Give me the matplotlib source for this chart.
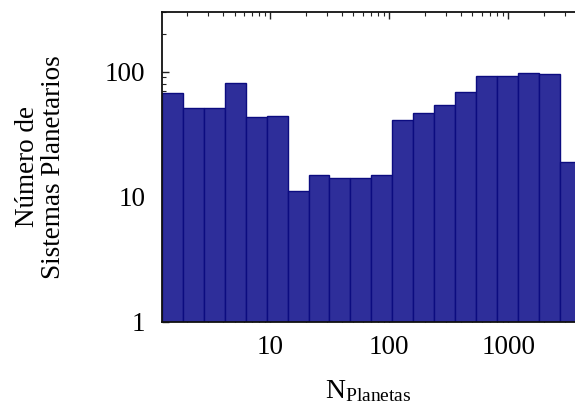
import numpy as np
import matplotlib
matplotlib.use('Agg')
import matplotlib.pyplot as plt
from matplotlib.ticker import LogLocator, FixedLocator, FixedFormatter, NullFormatter

# Datos del histograma (bins logarítmicos, factor 1.5)
bin_centers = [1.5 ** k for k in range(1, 21)]
bin_edges = [1.5 ** (k - 0.5) for k in range(1, 22)]
n_sistemas = [67, 51, 51, 81, 43, 44, 11, 15, 14, 14, 15, 41, 47, 54, 69, 92, 92, 98, 95, 19]

x_ticks = [10, 100, 1000]
x_ticklabels = ['10', '100', '1000']
y_ticks = [1, 10, 100]
y_ticklabels = ['1', '10', '100']

plt.rcParams['font.family'] = ['Liberation Serif', 'DejaVu Serif']
plt.rcParams['mathtext.fontset'] = 'custom'
plt.rcParams['mathtext.rm'] = 'Liberation Serif'
plt.rcParams['mathtext.it'] = 'Liberation Serif:italic'

fig = plt.figure(figsize=(5.75, 4.09), dpi=100)
ax = fig.add_axes([162 / 575, 1 - 321.5 / 409, 1 - 162 / 575, (321.5 - 12) / 409])

widths = np.diff(bin_edges)
ax.bar(bin_edges[:-1], n_sistemas, width=widths, align='edge',
       color='#2E2E9A', edgecolor='#0C0C80', linewidth=1.0)

ax.set_xscale('log')
ax.set_yscale('log')
ax.set_xlim(bin_edges[0], 3650)
ax.set_ylim(1, 300)
ax.set_axisbelow(True)

ax.xaxis.set_major_locator(FixedLocator(x_ticks))
ax.xaxis.set_major_formatter(FixedFormatter(x_ticklabels))
ax.xaxis.set_minor_locator(LogLocator(base=10, subs=np.arange(2, 10)))
ax.xaxis.set_minor_formatter(NullFormatter())
ax.yaxis.set_major_locator(FixedLocator(y_ticks))
ax.yaxis.set_major_formatter(FixedFormatter(y_ticklabels))
ax.yaxis.set_minor_locator(LogLocator(base=10, subs=np.arange(2, 10)))
ax.yaxis.set_minor_formatter(NullFormatter())

ax.tick_params(which='both', direction='in', top=True, right=False, labelsize=19.5, color='#222222')
ax.tick_params(which='major', length=5, width=1, pad=12)
ax.tick_params(axis='x', which='major', pad=10)
ax.tick_params(which='minor', length=3, width=0.8)
ax.spines['right'].set_visible(False)
for s in ['left', 'top', 'bottom']:
    ax.spines[s].set_linewidth(1.3)
    ax.spines[s].set_color('#111111')

ax.set_xlabel(r'N$_{\rm Planetas}$', fontsize=20, labelpad=13)
ax.set_ylabel('Número de\nSistemas Planetarios', fontsize=19.5, labelpad=28, linespacing=1.05)

fig.savefig('out.png', dpi=100)
